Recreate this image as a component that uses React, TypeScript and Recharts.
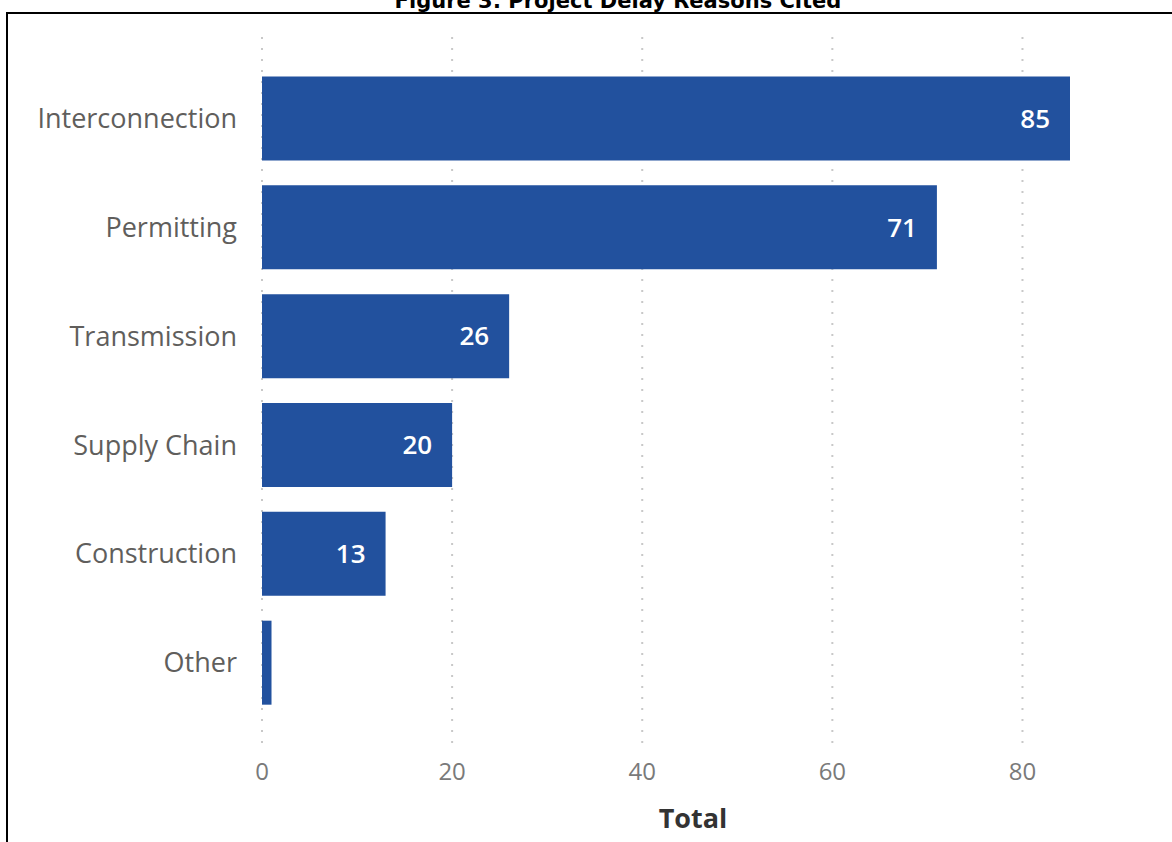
import { BarChart, Bar, XAxis, YAxis, CartesianGrid, LabelList } from 'recharts';

const reasons = ['Interconnection', 'Permitting', 'Transmission', 'Supply Chain', 'Construction', 'Other'];
const totals = [85, 71, 26, 20, 13, 1];
const xTicks = [0, 20, 40, 60, 80];

const data = reasons.map((name, i) => ({ name, total: totals[i] }));

export default function App() {
  return (
    <div style={{ position: 'fixed', top: 0, left: 0, width: 1172, height: 842, background: '#fff', overflow: 'hidden' }}>
      <div
        style={{
          position: 'absolute',
          top: 12,
          left: 6,
          width: 1200,
          height: 860,
          borderTop: '2px solid #000',
          borderLeft: '2px solid #000',
        }}
      />
      <div
        style={{
          position: 'absolute',
          top: -10,
          left: 32,
          width: 1172,
          textAlign: 'center',
          fontFamily: '"DejaVu Sans", sans-serif',
          fontWeight: 'bold',
          fontSize: 21,
          lineHeight: '22px',
          color: '#000',
        }}
      >
        Figure 3: Project Delay Reasons Cited
      </div>
      <div style={{ position: 'absolute', top: 0, left: 0 }}>
        <BarChart
          layout="vertical"
          width={1172}
          height={842}
          data={data}
          margin={{ top: 37, right: 102, left: 0, bottom: 40 }}
          barCategoryGap="11.5%"
        >
          <CartesianGrid
            horizontal={false}
            verticalValues={xTicks}
            stroke="#c8c8c8"
            strokeDasharray="2 9"
            strokeWidth={2}
          />
          <XAxis
            type="number"
            domain={[0, 85]}
            ticks={xTicks}
            axisLine={false}
            tickLine={false}
            tickMargin={5}
            tick={{ fill: '#7a7a7a', fontSize: 24, fontFamily: '"Open Sans", sans-serif' }}
            height={50}
            label={{
              value: 'Total',
              position: 'insideBottom',
              offset: -26,
              dx: 27,
              fill: '#333',
              fontSize: 27,
              fontWeight: 'bold',
              fontFamily: '"Open Sans", sans-serif',
            }}
          />
          <YAxis
            type="category"
            dataKey="name"
            width={262}
            axisLine={false}
            tickLine={false}
            tickSize={0}
            tickMargin={25}
            padding={{ top: 27, bottom: 35 }}
            tick={{ fill: '#605e5c', fontSize: 27, fontFamily: '"Open Sans", sans-serif' }}
          />
          <Bar dataKey="total" fill="#22519e" isAnimationActive={false}>
            <LabelList
              dataKey="total"
              position="insideRight"
              offset={20}
              fill="#fff"
              fontSize={26}
              fontWeight={600}
              fontFamily='"Open Sans", sans-serif'
              formatter={(v: number) => (v >= 5 ? v : '')}
            />
          </Bar>
        </BarChart>
      </div>
    </div>
  );
}
